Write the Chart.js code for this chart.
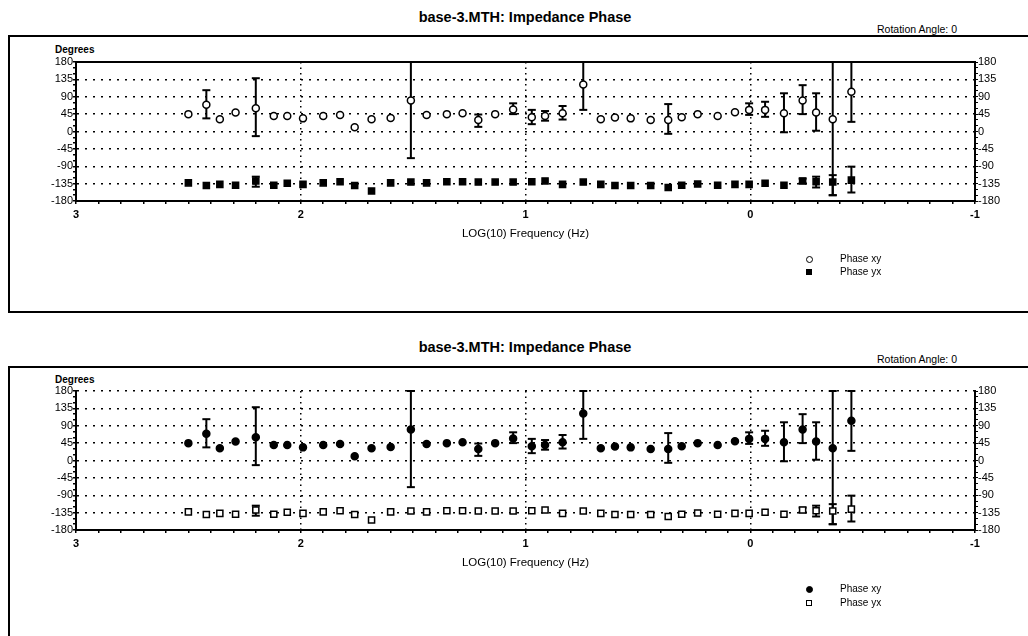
<!DOCTYPE html>
<html>
<head>
<meta charset="utf-8">
<script src="https://cdn.jsdelivr.net/npm/chart.js@4/dist/chart.umd.min.js"></script>
<style>
  html, body { margin: 0; padding: 0; background: #fff; }
  body { width: 1028px; height: 636px; position: relative; overflow: hidden; font-family: "Liberation Sans", Arial, sans-serif; color: #000; }
  .abs { position: absolute; white-space: nowrap; }
  .title { font-weight: bold; font-size: 14.5px; }
  .rot { font-size: 10.5px; }
  .deg { font-size: 10px; font-weight: bold; }
  .leg { font-size: 10px; }
  .box { position: absolute; border: 2px solid #000; box-sizing: border-box; }
  canvas { position: absolute; left: 0; }
  .circ { position: absolute; width: 7px; height: 7px; border-radius: 50%; box-sizing: border-box; border: 1.5px solid #000; }
  .sq { position: absolute; width: 6px; height: 6px; box-sizing: border-box; border: 1.5px solid #000; }
</style>
</head>
<body>
<div class="box" style="left:8px; top:35px; width:1040px; height:278px;"></div>
<div class="box" style="left:8px; top:366px; width:1040px; height:300px;"></div>

<div class="abs title" style="left:525px; top:9px; transform:translateX(-50%);">base-3.MTH: Impedance Phase</div>
<div class="abs rot" style="left:877px; top:23px;">Rotation Angle: 0</div>
<div class="abs deg" style="left:55px; top:44px;">Degrees</div>

<div class="abs title" style="left:525px; top:339px; transform:translateX(-50%);">base-3.MTH: Impedance Phase</div>
<div class="abs rot" style="left:877px; top:353px;">Rotation Angle: 0</div>
<div class="abs deg" style="left:55px; top:374px;">Degrees</div>

<canvas id="c1" width="1028" height="220" style="top:40px; width:1028px; height:220px;"></canvas>
<canvas id="c2" width="1028" height="220" style="top:369px; width:1028px; height:220px;"></canvas>

<div class="circ" style="left:806px; top:256px; background:#fff;"></div>
<div class="sq" style="left:806px; top:269px; background:#000;"></div>
<div class="abs leg" style="left:840px; top:253px;">Phase xy</div>
<div class="abs leg" style="left:840px; top:266px;">Phase yx</div>

<div class="circ" style="left:806px; top:586px; background:#000;"></div>
<div class="sq" style="left:806px; top:600px; background:#fff;"></div>
<div class="abs leg" style="left:840px; top:583px;">Phase xy</div>
<div class="abs leg" style="left:840px; top:597px;">Phase yx</div>

<script>
// ---- data (log10 frequency, phase in degrees) ----
const logFreq = [2.50, 2.42, 2.36, 2.29, 2.20, 2.12, 2.06, 1.99, 1.90, 1.825,
                 1.76, 1.685, 1.60, 1.51, 1.44, 1.35, 1.28, 1.21, 1.135, 1.055,
                 0.972, 0.913, 0.835, 0.743, 0.665, 0.602, 0.532, 0.443, 0.365, 0.305,
                 0.234, 0.145, 0.068, 0.005, -0.066, -0.15, -0.233, -0.293, -0.367, -0.45];
const phaseXy = [45, 69, 32, 49, 60, 40, 40, 34, 40, 43,
                 11, 32, 35, 80, 43, 45, 47, 30, 45, 57,
                 37, 40, 47, 122, 32, 36, 34, 30, 30, 37,
                 45, 40, 50, 56, 56, 47, 80, 49, 32, 103];
const phaseYx = [-133, -140, -137, -139, -128, -139, -134, -137, -133, -130,
                 -140, -154, -133, -131, -133, -130, -130, -131, -131, -131,
                 -130, -128, -137, -131, -137, -140, -140, -140, -145, -139,
                 -136, -139, -137, -137, -134, -139, -128, -130, -131, -126];
const errXyLow  = [null, 34, null, null, -12, null, null, null, null, null,
                   null, null, null, -69, null, null, null, 12, null, 45,
                   19, 28, 31, 56, null, null, null, null, -6, null,
                   null, null, null, 43, 38, -2, 45, 2, -165, 25];
const errXyHigh = [null, 107, null, null, 138, null, null, null, null, null,
                   null, null, null, 180, null, null, null, 44, null, 73,
                   56, 53, 66, 180, null, null, null, null, 71, null,
                   null, null, null, 73, 77, 99, 120, 99, 180, 180];
const errYxLow  = [null, null, null, null, -143, null, null, null, null, null,
                   null, null, null, null, null, null, null, null, null, null,
                   null, null, null, null, null, null, null, null, null, null,
                   null, null, null, null, null, null, -134, -145, -165, -158];
const errYxHigh = [null, null, null, null, -117, null, null, null, null, null,
                   null, null, null, null, null, null, null, null, null, null,
                   null, null, null, null, null, null, null, null, null, null,
                   null, null, null, null, null, null, -122, -117, -113, -91];
const xTickLabels = [3, 2, 1, 0, -1];
const yTickLabels = [180, 135, 90, 45, 0, -45, -90, -135, -180];

function pts(vals) { return logFreq.map((x, i) => ({x: x, y: vals[i]})); }
function errSegments(lo, hi) {
  const out = [];
  logFreq.forEach((x, i) => {
    if (lo[i] !== null && hi[i] !== null) {
      out.push({x: x, y: lo[i]}, {x: x, y: hi[i]}, {x: x, y: null});
    }
  });
  return out;
}

const FONT = "'Liberation Sans', Arial, sans-serif";
const near = (v, t) => Math.abs(v - t) < 1e-6;
const isInt = v => near(v, Math.round(v));

function buildPanel(id, xyFilled, solidTop) {
  const errStyle = {
    type: 'line', showLine: true, spanGaps: false,
    borderColor: '#000', borderWidth: 2,
    pointStyle: 'line', pointRadius: 4, pointBorderWidth: 2,
    pointBorderColor: '#000', pointHoverRadius: 0,
    order: 2, clip: false
  };
  const scales = {
    x: {
      type: 'linear', min: -1, max: 3, reverse: true,
      afterFit: s => { s.height = 59; },
      ticks: {
        stepSize: 0.1, autoSkip: false, maxRotation: 0, padding: 4, maxTicksLimit: 100,
        font: {family: FONT, size: 11, weight: 'bold'}, color: '#000',
        callback: v => (isInt(v) && xTickLabels.includes(Math.round(v))) ? String(Math.round(v)) : ''
      },
      grid: {
        drawOnChartArea: true, tickLength: 3, tickColor: '#000', lineWidth: 1.5,
        color: c => {
          const v = c.tick ? c.tick.value : 0;
          return (isInt(v) && !near(v, 3) && !near(v, -1)) ? '#000' : 'rgba(0,0,0,0)';
        }
      },
      border: {display: true, color: '#000', width: 2, dash: [1.5, 4]},
      title: {display: true, text: 'LOG(10) Frequency (Hz)', color: '#000',
              font: {family: FONT, size: 11.5}, padding: {top: 0, bottom: 19}}
    },
    y: {
      type: 'linear', position: 'left', min: -180, max: 180,
      afterFit: s => { s.width = 76; },
      ticks: {
        stepSize: 15, autoSkip: false, padding: 0, maxTicksLimit: 100,
        font: {family: FONT, size: 11}, color: '#000',
        callback: v => yTickLabels.includes(v) ? String(v) : ''
      },
      grid: {
        drawOnChartArea: true, tickLength: 3, tickColor: '#000', lineWidth: 1.5,
        color: c => {
          const v = c.tick ? c.tick.value : 0;
          if (v === -180) return 'rgba(0,0,0,0)';
          if (v === 180 && solidTop) return 'rgba(0,0,0,0)';
          return (v % 45 === 0) ? '#000' : 'rgba(0,0,0,0)';
        }
      },
      border: {display: true, color: '#000', width: 2, dash: [2, 6]}
    },
    y2: {
      type: 'linear', position: 'right', min: -180, max: 180,
      afterFit: s => { s.width = 53; },
      ticks: {
        stepSize: 15, autoSkip: false, padding: 0, maxTicksLimit: 100,
        font: {family: FONT, size: 11}, color: '#000',
        callback: v => yTickLabels.includes(v) ? String(v) : ''
      },
      grid: {drawOnChartArea: false, tickLength: 3, tickColor: '#000'},
      border: {display: true, color: '#000', width: 2}
    }
  };
  if (solidTop) {
    scales.xTop = {
      type: 'linear', position: 'top', min: -1, max: 3, reverse: true,
      afterFit: s => { s.height = 0; },
      ticks: {display: false},
      grid: {display: false},
      border: {display: true, color: '#000', width: 2}
    };
  }
  new Chart(document.getElementById(id), {
    type: 'scatter',
    data: {
      datasets: [
        {
          label: 'Phase xy', data: pts(phaseXy),
          pointStyle: 'circle', pointRadius: 3.5, pointBorderWidth: 1.5,
          borderColor: '#000', backgroundColor: xyFilled ? '#000' : '#fff',
          order: 0
        },
        {
          label: 'Phase yx', data: pts(phaseYx),
          pointStyle: 'rect', pointRadius: 4.3, pointBorderWidth: 1.5,
          borderColor: '#000', backgroundColor: xyFilled ? '#fff' : '#000',
          order: 0
        },
        Object.assign({label: 'err xy', data: errSegments(errXyLow, errXyHigh)}, errStyle),
        Object.assign({label: 'err yx', data: errSegments(errYxLow, errYxHigh)}, errStyle)
      ]
    },
    options: {
      responsive: false, animation: false, devicePixelRatio: 1,
      layout: {padding: {top: 22, left: 0, right: 0, bottom: 0}},
      plugins: {legend: {display: false}, tooltip: {enabled: false}, title: {display: false}},
      scales: scales
    }
  });
}

buildPanel('c1', false, true);
buildPanel('c2', true, false);
</script>
</body>
</html>
